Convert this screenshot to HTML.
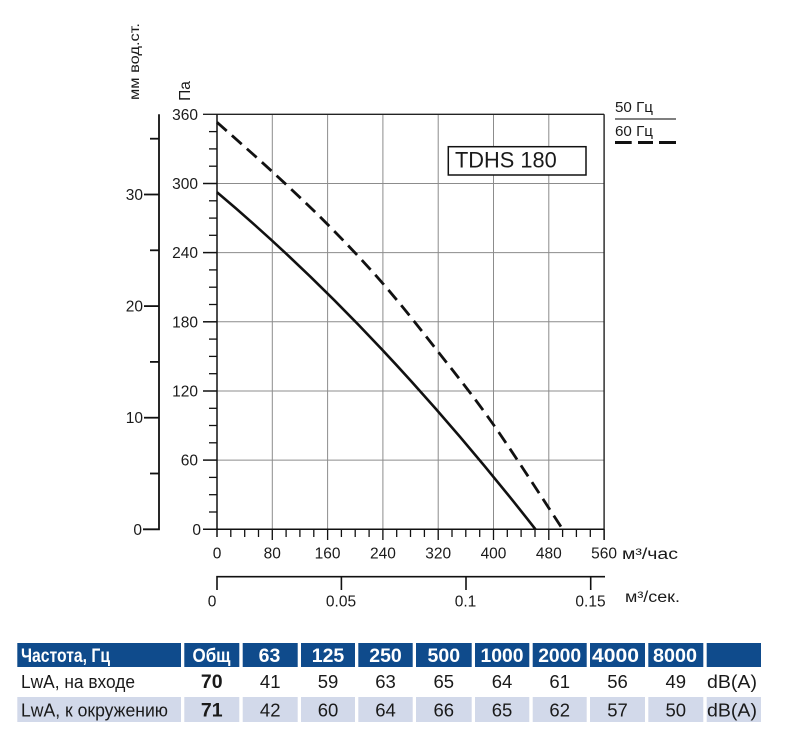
<!DOCTYPE html>
<html><head><meta charset="utf-8"><style>
html,body{margin:0;padding:0;background:#fff;}
svg{display:block;}
text{font-family:"Liberation Sans",Arial,sans-serif;fill:#1a1a1a;}
</style></head><body>
<svg width="787" height="746" viewBox="0 0 787 746" xmlns="http://www.w3.org/2000/svg">
<!-- grid -->
<g stroke="#8c8c8c" stroke-width="1" fill="none">
<line x1="272.3" y1="115" x2="272.3" y2="540"/>
<line x1="327.6" y1="115" x2="327.6" y2="540"/>
<line x1="382.9" y1="115" x2="382.9" y2="540"/>
<line x1="438.2" y1="115" x2="438.2" y2="540"/>
<line x1="493.5" y1="115" x2="493.5" y2="540"/>
<line x1="548.8" y1="115" x2="548.8" y2="540"/>
<line x1="217" y1="460.1" x2="604" y2="460.1"/>
<line x1="217" y1="391" x2="604" y2="391"/>
<line x1="217" y1="321.8" x2="604" y2="321.8"/>
<line x1="217" y1="252.6" x2="604" y2="252.6"/>
<line x1="217" y1="183.5" x2="604" y2="183.5"/>
</g>
<!-- frame top/right -->
<g stroke="#222" stroke-width="1.4" fill="none">
<line x1="203" y1="114.3" x2="604.1" y2="114.3"/>
<line x1="604.1" y1="114.3" x2="604.1" y2="540"/>
</g>
<!-- Pa axis -->
<g stroke="#111" stroke-width="1.5" fill="none">
<line x1="217" y1="114.3" x2="217" y2="537"/>
<line x1="203" y1="529.3" x2="604.1" y2="529.3"/>
<line x1="203" y1="460.1" x2="217" y2="460.1"/>
<line x1="203" y1="391" x2="217" y2="391"/>
<line x1="203" y1="321.8" x2="217" y2="321.8"/>
<line x1="203" y1="252.6" x2="217" y2="252.6"/>
<line x1="203" y1="183.5" x2="217" y2="183.5"/>
</g>
<g stroke="#111" stroke-width="1.3">
<line x1="209" y1="512" x2="217" y2="512"/><line x1="209" y1="494.7" x2="217" y2="494.7"/><line x1="209" y1="477.4" x2="217" y2="477.4"/>
<line x1="209" y1="442.8" x2="217" y2="442.8"/><line x1="209" y1="425.5" x2="217" y2="425.5"/><line x1="209" y1="408.3" x2="217" y2="408.3"/>
<line x1="209" y1="373.7" x2="217" y2="373.7"/><line x1="209" y1="356.4" x2="217" y2="356.4"/><line x1="209" y1="339.1" x2="217" y2="339.1"/>
<line x1="209" y1="304.5" x2="217" y2="304.5"/><line x1="209" y1="287.2" x2="217" y2="287.2"/><line x1="209" y1="269.9" x2="217" y2="269.9"/>
<line x1="209" y1="235.3" x2="217" y2="235.3"/><line x1="209" y1="218.1" x2="217" y2="218.1"/><line x1="209" y1="200.8" x2="217" y2="200.8"/>
<line x1="209" y1="166.2" x2="217" y2="166.2"/><line x1="209" y1="148.9" x2="217" y2="148.9"/><line x1="209" y1="131.6" x2="217" y2="131.6"/>
</g>
<!-- x ticks -->
<g stroke="#111" stroke-width="1.3">
<line x1="230.8" y1="529" x2="230.8" y2="537"/><line x1="244.7" y1="529" x2="244.7" y2="537"/><line x1="258.5" y1="529" x2="258.5" y2="537"/><line x1="272.3" y1="529" x2="272.3" y2="540"/>
<line x1="286.1" y1="529" x2="286.1" y2="537"/><line x1="299.9" y1="529" x2="299.9" y2="537"/><line x1="313.8" y1="529" x2="313.8" y2="537"/><line x1="327.6" y1="529" x2="327.6" y2="540"/>
<line x1="341.4" y1="529" x2="341.4" y2="537"/><line x1="355.2" y1="529" x2="355.2" y2="537"/><line x1="369.1" y1="529" x2="369.1" y2="537"/><line x1="382.9" y1="529" x2="382.9" y2="540"/>
<line x1="396.7" y1="529" x2="396.7" y2="537"/><line x1="410.5" y1="529" x2="410.5" y2="537"/><line x1="424.4" y1="529" x2="424.4" y2="537"/><line x1="438.2" y1="529" x2="438.2" y2="540"/>
<line x1="452" y1="529" x2="452" y2="537"/><line x1="465.8" y1="529" x2="465.8" y2="537"/><line x1="479.7" y1="529" x2="479.7" y2="537"/><line x1="493.5" y1="529" x2="493.5" y2="540"/>
<line x1="507.3" y1="529" x2="507.3" y2="537"/><line x1="521.1" y1="529" x2="521.1" y2="537"/><line x1="535" y1="529" x2="535" y2="537"/><line x1="548.8" y1="529" x2="548.8" y2="540"/>
<line x1="562.6" y1="529" x2="562.6" y2="537"/><line x1="576.4" y1="529" x2="576.4" y2="537"/><line x1="590.3" y1="529" x2="590.3" y2="537"/><line x1="604.1" y1="529" x2="604.1" y2="540"/>
</g>
<!-- Pa labels -->
<g font-size="15.5" text-anchor="end">
<text x="201" y="535">0</text>
<text x="198" y="465.6">60</text>
<text x="198" y="396.5">120</text>
<text x="198" y="327.3">180</text>
<text x="198" y="258.1">240</text>
<text x="198" y="189">300</text>
<text x="198" y="119.8">360</text>
</g>
<text transform="translate(190,91) rotate(-90)" font-size="15.5" text-anchor="middle">Па</text>
<!-- mm axis -->
<g stroke="#111" stroke-width="1.8" fill="none">
<polyline points="159,114.3 159,529.3 143,529.3"/>
<line x1="144" y1="417.7" x2="159" y2="417.7"/>
<line x1="144" y1="306.1" x2="159" y2="306.1"/>
<line x1="144" y1="194.5" x2="159" y2="194.5"/>
<line x1="150" y1="473.5" x2="159" y2="473.5"/>
<line x1="150" y1="361.9" x2="159" y2="361.9"/>
<line x1="150" y1="250.3" x2="159" y2="250.3"/>
<line x1="150" y1="138.7" x2="159" y2="138.7"/>
</g>
<g font-size="15.5" text-anchor="end">
<text x="142" y="535">0</text>
<text x="143" y="423.2">10</text>
<text x="143" y="311.6">20</text>
<text x="143" y="200">30</text>
</g>
<text transform="translate(139,61.5) rotate(-90)" font-size="13.5" text-anchor="middle" textLength="77" lengthAdjust="spacingAndGlyphs">мм вод.ст.</text>
<!-- x labels -->
<g font-size="15.5" text-anchor="middle">
<text x="217" y="558.5">0</text>
<text x="272.3" y="558.5">80</text>
<text x="327.6" y="558.5">160</text>
<text x="382.9" y="558.5">240</text>
<text x="438.2" y="558.5">320</text>
<text x="493.5" y="558.5">400</text>
<text x="548.8" y="558.5">480</text>
<text x="604.1" y="558.5">560</text>
</g>
<text x="622" y="559" font-size="15.5" textLength="56" lengthAdjust="spacingAndGlyphs">м³/час</text>
<!-- second axis -->
<g stroke="#111" stroke-width="1.6" fill="none">
<polyline points="217,590 217,576.7 605,576.7"/>
<line x1="341.4" y1="576.7" x2="341.4" y2="590"/>
<line x1="466" y1="576.7" x2="466" y2="590"/>
<line x1="590.7" y1="576.7" x2="590.7" y2="590"/>
</g>
<g font-size="15.5" text-anchor="middle">
<text x="212" y="606.5">0</text>
<text x="341" y="606.5">0.05</text>
<text x="465.5" y="606.5">0.1</text>
<text x="590.5" y="606.5">0.15</text>
</g>
<text x="625" y="602" font-size="15.5" textLength="55" lengthAdjust="spacingAndGlyphs">м³/сек.</text>
<!-- curves -->
<path d="M217,192.3 Q376.25,326 535.5,529.3" stroke="#111" stroke-width="2.6" fill="none"/>
<path d="M217,122.3 C226.2,130.5 253.85,154.67 272.3,171.7 C290.75,188.73 309.2,205.78 327.7,224.5 C346.2,243.22 364.87,262.75 383.3,284 C401.73,305.25 419.9,328.5 438.3,352 C456.7,375.5 472.97,395.45 493.7,425 C514.43,454.55 551.2,511.92 562.7,529.3" stroke="#111" stroke-width="2.8" fill="none" stroke-dasharray="13 7"/>
<!-- TDHS box -->
<rect x="448.3" y="146.7" width="137.7" height="28.3" fill="#fff" stroke="#111" stroke-width="1.5"/>
<text x="455" y="167.5" font-size="22" textLength="101.7" lengthAdjust="spacingAndGlyphs">TDHS 180</text>
<!-- legend -->
<text x="615" y="112" font-size="14.5" textLength="38" lengthAdjust="spacingAndGlyphs">50 Гц</text>
<line x1="615" y1="119" x2="676" y2="119" stroke="#333" stroke-width="1.2"/>
<text x="615" y="136" font-size="14.5" textLength="38" lengthAdjust="spacingAndGlyphs">60 Гц</text>
<g stroke="#111" stroke-width="3">
<line x1="615" y1="142.5" x2="631.7" y2="142.5"/>
<line x1="638" y1="142.5" x2="653" y2="142.5"/>
<line x1="659" y1="142.5" x2="676" y2="142.5"/>
</g>
<!-- table -->
<g fill="#0f4b8c">
<rect x="17.3" y="643" width="163.7" height="24"/>
<rect x="184.3" y="643" width="55" height="24"/>
<rect x="242.7" y="643" width="55" height="24"/>
<rect x="301" y="643" width="54" height="24"/>
<rect x="358.3" y="643" width="54.4" height="24"/>
<rect x="416" y="643" width="55.7" height="24"/>
<rect x="475" y="643" width="54.3" height="24"/>
<rect x="532.7" y="643" width="54" height="24"/>
<rect x="590" y="643" width="55" height="24"/>
<rect x="648.3" y="643" width="55" height="24"/>
<rect x="706.7" y="643" width="54.3" height="24"/>
</g>
<g fill="#d2d9ea">
<rect x="17.3" y="697" width="163.7" height="25"/>
<rect x="184.3" y="697" width="55" height="25"/>
<rect x="242.7" y="697" width="55" height="25"/>
<rect x="301" y="697" width="54" height="25"/>
<rect x="358.3" y="697" width="54.4" height="25"/>
<rect x="416" y="697" width="55.7" height="25"/>
<rect x="475" y="697" width="54.3" height="25"/>
<rect x="532.7" y="697" width="54" height="25"/>
<rect x="590" y="697" width="55" height="25"/>
<rect x="648.3" y="697" width="55" height="25"/>
<rect x="706.7" y="697" width="54.3" height="25"/>
</g>
<g font-size="19.5" font-weight="bold" text-anchor="middle">
<text x="21" y="662" text-anchor="start" textLength="89" lengthAdjust="spacingAndGlyphs" style="fill:#fff">Частота, Гц</text>
<text x="211.5" y="662" textLength="38" lengthAdjust="spacingAndGlyphs" style="fill:#fff">Общ</text>
<text x="269.5" y="662" style="fill:#fff">63</text>
<text x="328" y="662" style="fill:#fff">125</text>
<text x="385.5" y="662" style="fill:#fff">250</text>
<text x="443.8" y="662" style="fill:#fff">500</text>
<text x="502" y="662" textLength="43" lengthAdjust="spacingAndGlyphs" style="fill:#fff">1000</text>
<text x="559.7" y="662" textLength="43" lengthAdjust="spacingAndGlyphs" style="fill:#fff">2000</text>
<text x="615.5" y="662" textLength="47" lengthAdjust="spacingAndGlyphs" style="fill:#fff">4000</text>
<text x="675" y="662" textLength="44" lengthAdjust="spacingAndGlyphs" style="fill:#fff">8000</text>
</g>
<g font-size="18.5" text-anchor="middle">
<text x="21" y="688" text-anchor="start" textLength="114" lengthAdjust="spacingAndGlyphs">LwA, на входе</text>
<text x="211.7" y="688" font-weight="bold" font-size="19.5">70</text>
<text x="270.2" y="688">41</text>
<text x="328" y="688">59</text>
<text x="385.5" y="688">63</text>
<text x="443.8" y="688">65</text>
<text x="502" y="688">64</text>
<text x="559.7" y="688">61</text>
<text x="617.5" y="688">56</text>
<text x="675.8" y="688">49</text>
<text x="732" y="688" textLength="50" lengthAdjust="spacingAndGlyphs">dB(A)</text>
<text x="21" y="716.5" text-anchor="start" textLength="147" lengthAdjust="spacingAndGlyphs">LwA, к окружению</text>
<text x="211.7" y="716.5" font-weight="bold" font-size="19.5">71</text>
<text x="270.2" y="716.5">42</text>
<text x="328" y="716.5">60</text>
<text x="385.5" y="716.5">64</text>
<text x="443.8" y="716.5">66</text>
<text x="502" y="716.5">65</text>
<text x="559.7" y="716.5">62</text>
<text x="617.5" y="716.5">57</text>
<text x="675.8" y="716.5">50</text>
<text x="732" y="716.5" textLength="50" lengthAdjust="spacingAndGlyphs">dB(A)</text>
</g>
</svg>
</body></html>
